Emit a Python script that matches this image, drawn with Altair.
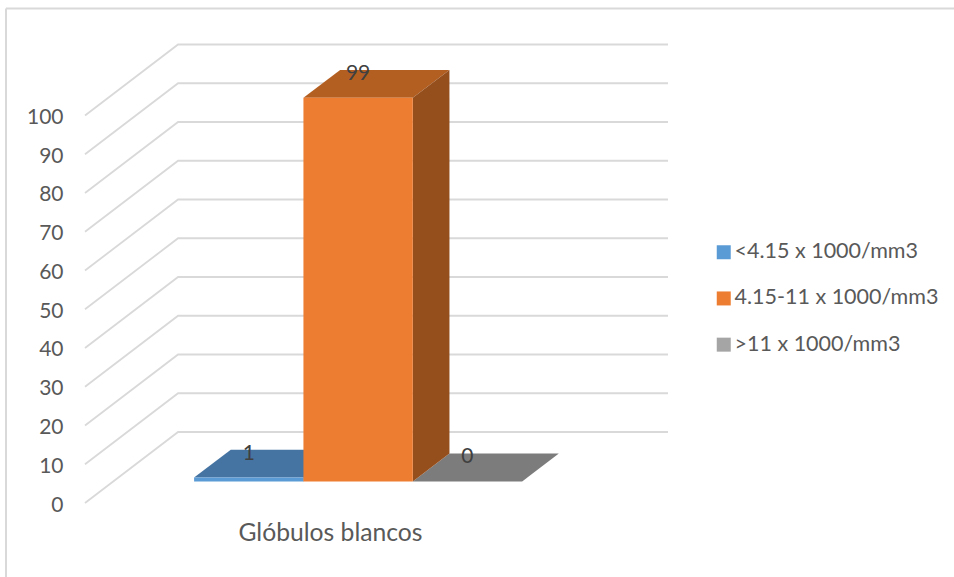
import altair as alt
import pandas as pd

# Chart values
categories = ["Glóbulos blancos"]
series = ["<4.15 x 1000/mm3", "4.15-11 x 1000/mm3", ">11 x 1000/mm3"]
values = [1, 99, 0]
value_ticks = [0, 10, 20, 30, 40, 50, 60, 70, 80, 90, 100]

# Face colours per series
front_colors = ["#5B9BD5", "#ED7D31", "#A5A5A5"]
top_colors = ["#4674A2", "#B45F22", "#7C7C7C"]
side_colors = ["#3E6A94", "#954F1D", "#6E6E6E"]

# Oblique projection: a unit of depth moves a point right (category units) and up (value units)
DEPTH_X = 0.19
DEPTH_Y = 18.32
BAR_DEPTH = (0.303, 0.697)
BAR_WIDTH = 0.2232
BAR_START = 0.1651

FONT = "Lato"
GRID = "#D9D9D9"
TEXT = "#595959"

x_scale = alt.Scale(domain=[0, 1 + DEPTH_X], nice=False, zero=False)
y_scale = alt.Scale(domain=[0, 100 + DEPTH_Y], nice=False, zero=False)


def px(x, depth):
    return x + depth * DEPTH_X


def py(v, depth):
    return v + depth * DEPTH_Y


# Floor-to-wall gridlines: front edge, back corner, right end of the back wall
grid_rows = []
for t in value_ticks:
    for i, (x, d) in enumerate([(0, 0), (0, 1), (1, 1)]):
        grid_rows.append({"tick": t, "i": i, "gx": px(x, d), "gy": py(t, d)})
grid_df = pd.DataFrame(grid_rows)

front_rows, top_rows, side_rows, label_rows = [], [], [], []
d0, d1 = BAR_DEPTH
for k, (name, v) in enumerate(zip(series, values)):
    x0 = BAR_START + k * BAR_WIDTH
    x1 = x0 + BAR_WIDTH
    front_rows.append({"series": name, "x0": px(x0, d0), "x1": px(x1, d0),
                       "y0": py(0, d0), "y1": py(v, d0)})
    for d in BAR_DEPTH:
        top_rows.append({"series": name, "fill": top_colors[k], "x0": px(x0, d),
                         "x1": px(x1, d), "y": py(v, d)})
        side_rows.append({"series": name, "fill": side_colors[k], "x": px(x1, d),
                          "y0": py(0, d), "y1": py(v, d)})
    label_rows.append({"text": str(v), "x": px((x0 + x1) / 2, d0), "y": py(v, d0)})

X = lambda f: alt.X(f, type="quantitative", scale=x_scale, title=None)
Y = lambda f: alt.Y(f, type="quantitative", scale=y_scale, title=None)

grid = alt.Chart(grid_df).mark_line(color=GRID, strokeWidth=1.8, interpolate="linear").encode(
    x=alt.X("gx:Q", scale=x_scale, title=None,
            axis=alt.Axis(values=[0.5], labelExpr=repr(categories[0]), domain=False, ticks=False,
                          grid=False, labelFont=FONT, labelFontSize=24.7, labelColor=TEXT,
                          labelPadding=17, labelFlush=False, labelLimit=320)),
    y=alt.Y("gy:Q", scale=y_scale, title=None,
            axis=alt.Axis(values=value_ticks, domain=False, ticks=False, grid=False, labelOffset=2,
                          labelFont=FONT, labelFontSize=21, labelColor=TEXT, labelPadding=22)),
    detail="tick:O",
    order="i:O",
)

tops = alt.Chart(pd.DataFrame(top_rows)).mark_area(orient="horizontal").encode(
    x=X("x0"), x2="x1", y=Y("y"),
    detail="series:N",
    color=alt.Color("fill:N", scale=None),
)

sides = alt.Chart(pd.DataFrame(side_rows)).mark_area(orient="vertical").encode(
    x=X("x"), y=Y("y0"), y2="y1",
    detail="series:N",
    color=alt.Color("fill:N", scale=None),
)

fronts = alt.Chart(pd.DataFrame(front_rows)).mark_rect().encode(
    x=X("x0"), x2="x1", y=Y("y0"), y2="y1",
    fill=alt.Fill("series:N", sort=series,
                  scale=alt.Scale(domain=series, range=front_colors),
                  legend=alt.Legend(orient="none", legendX=628, legendY=197, title=None,
                                    symbolType="square", symbolSize=196, symbolStrokeWidth=0,
                                    labelFont=FONT, labelFontSize=21.5, labelColor=TEXT,
                                    labelOffset=0, rowPadding=23.2, labelLimit=300)),
)

labels = alt.Chart(pd.DataFrame(label_rows)).mark_text(
    font=FONT, fontSize=21, color="#404040", dy=-24, baseline="middle", align="center"
).encode(x=X("x"), y=Y("y"), text="text:N")

# Chart-area frame: only the left and top edges fall inside the page
frame_left = alt.Chart(pd.DataFrame({"a": [0]})).mark_rule(color=GRID, strokeWidth=2).encode(
    x=alt.value(-79), y=alt.value(-36), y2=alt.value(533))
frame_top = alt.Chart(pd.DataFrame({"a": [0]})).mark_rule(color=GRID, strokeWidth=2).encode(
    y=alt.value(-36), x=alt.value(-79), x2=alt.value(869))

chart = alt.layer(frame_left, frame_top, grid, tops, sides, fronts, labels).properties(
    width=583, height=458.5,
    padding={"left": 85, "top": 44.5, "right": 286, "bottom": 74},
    autosize=alt.AutoSizeParams(type="none"),
    background="white",
).configure_view(stroke=None).resolve_scale(color="independent")

chart.save("out.html", embed_options={"renderer": "svg", "actions": False})
